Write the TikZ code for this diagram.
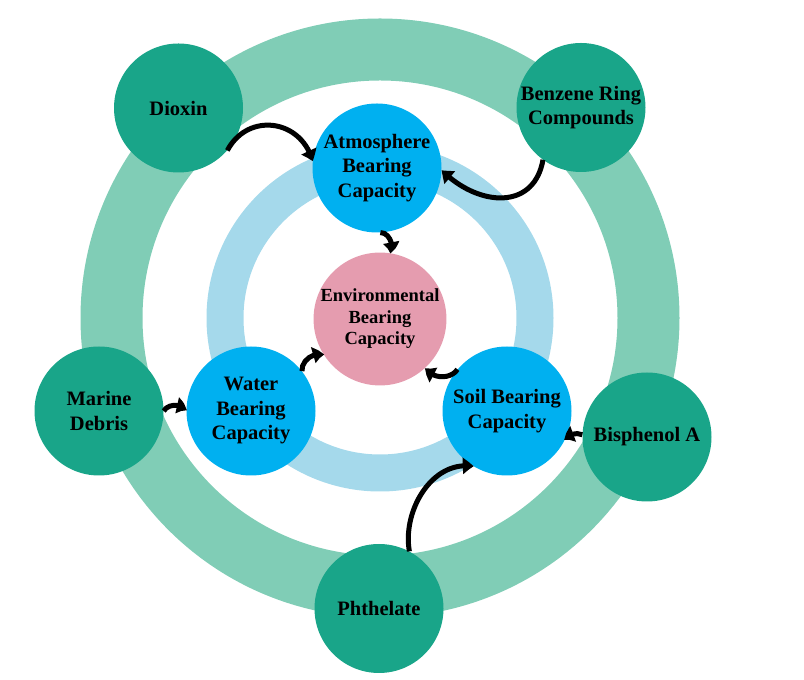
\documentclass[tikz,border=0pt]{standalone}
\usepackage{fontspec}
\setmainfont{Liberation Serif}
\usetikzlibrary{positioning}
\usetikzlibrary{arrows.meta,bending}

\definecolor{ringgreen}{HTML}{80CDB6}
\definecolor{deepgreen}{HTML}{19A589}
\definecolor{skyblue}{HTML}{00B0F0}
\definecolor{paleblue}{HTML}{A5D9EB}
\definecolor{rosepink}{HTML}{E59CAF}

\begin{document}
\begin{tikzpicture}[x=1pt,y=1pt,
        bubble/.style={circle,minimum size=129pt,inner sep=0pt,align=center,
            font=\fontsize{20.5}{24.5}\selectfont\bfseries}]
        \useasboundingbox (0,0) rectangle (804,680);

        % the two rings behind
        \draw[ringgreen,line width=62pt] (380,362) circle (268.5);
        \draw[paleblue,line width=37pt] (380,362) circle (155);

        \node[bubble,fill=rosepink,font=\fontsize{18.5}{21.5}\selectfont\bfseries]
            (env) at (380,361) {Environmental\\Bearing\\Capacity};

        \begin{scope}[every node/.style={bubble,fill=skyblue}]
            \node (atmos) at (377,512) {Atmosphere\\Bearing\\Capacity};
            \node (water) at (251,269) {Water\\Bearing\\Capacity};
            \node (soil) at (507,269) {Soil Bearing\\Capacity};
        \end{scope}

        \begin{scope}[every node/.style={bubble,fill=deepgreen}]
            \node (dioxin) at (178.5,572) {Dioxin};
            \node (benzene) at (581,572.5) {Benzene Ring\\Compounds};
            \node (marine) at (99,269) {Marine\\Debris};
            \node (bisphenol) at (647,243) {Bisphenol A};
            \node (phthalate) at (379,71.5) {Phthelate};
        \end{scope}

        \begin{scope}[>={Triangle[length=11pt,width=16pt,bend]},
            every edge/.style={draw=black,line width=5pt}]
            \path [->] (dioxin.-41) edge[out=62,in=105,looseness=1.3] (atmos.174);
            \path [->] (benzene.-126) edge[out=-100,in=-45,looseness=1.3] (atmos.-2);
            \path [->] (atmos.-87) edge[bend left=70] (env.82);
            \path [->] (water.38) edge[bend left=60] (env.213);
            \path [->] (soil.140) edge[bend left=60] (env.-47);
            \path [->] (marine.0) edge[bend left=60] (water.180);
            \path [->] (bisphenol.178) edge[bend right=40] (soil.-27);
            \path [->] (phthalate.62) edge[out=100,in=170] (soil.-121);
        \end{scope}
\end{tikzpicture}
\end{document}
